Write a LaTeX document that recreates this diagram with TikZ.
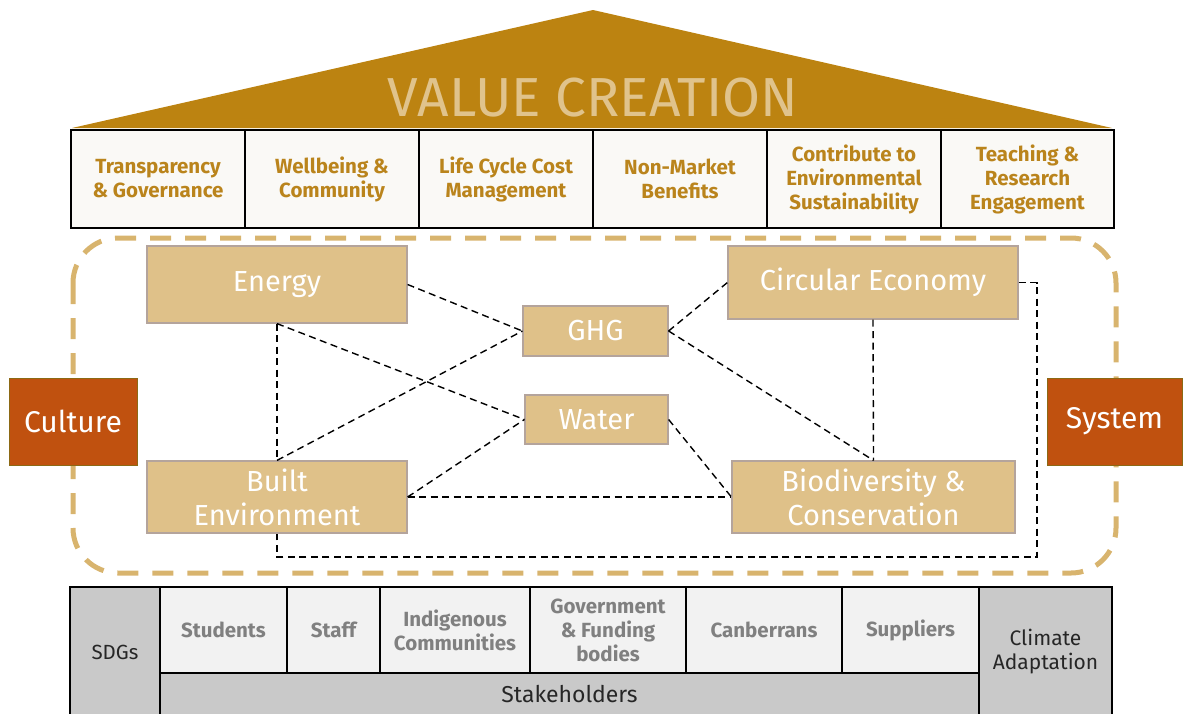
\documentclass[tikz,border=0pt]{standalone}
\usepackage{fontspec}
\setmainfont{Fira Sans}
\definecolor{roof}{RGB}{188,131,17}
\definecolor{roofText}{RGB}{224,195,140}
\definecolor{valText}{RGB}{186,132,28}
\definecolor{valFill}{RGB}{250,249,246}
\definecolor{tan}{RGB}{223,193,137}
\definecolor{tanBorder}{RGB}{180,164,156}
\definecolor{dashGold}{RGB}{216,180,110}
\definecolor{rust}{RGB}{192,81,15}
\definecolor{rustBorder}{RGB}{140,105,20}
\definecolor{cellGray}{RGB}{201,201,201}
\definecolor{cellLight}{RGB}{242,242,242}
\definecolor{cellText}{RGB}{128,128,128}
\begin{document}
\begin{tikzpicture}[x=1pt,y=-1pt,
  valbox/.style={draw=black,line width=1.6pt,fill=valFill,minimum width=174pt,minimum height=98pt,
    text=valText,font=\bfseries\fontsize{20.5}{24}\selectfont,align=center,inner sep=0pt},
  topic/.style={draw=tanBorder,line width=1.2pt,fill=tan,text=white,
    font=\fontsize{29}{34}\selectfont,align=center,inner sep=0pt},
  pillar/.style={draw=rustBorder,line width=1pt,fill=rust,text=white,
    font=\fontsize{30}{34}\selectfont,minimum height=87pt,inner sep=0pt},
  link/.style={draw=black,line width=1.4pt,dash pattern=on 7pt off 4.5pt},
  stake/.style={draw=black,line width=1.4pt,fill=cellLight,text=cellText,
    font=\bfseries\fontsize{20.5}{24}\selectfont,align=center,minimum height=86pt,inner sep=0pt},
  grayc/.style={draw=black,line width=1.4pt,fill=cellGray,text=black!85,
    font=\fontsize{20.5}{24}\selectfont,align=center,inner sep=0pt}
]
\useasboundingbox (0,0) rectangle (1183,713);
% roof
\fill[roof] (72,128) -- (593,10) -- (1112,128) -- cycle;
\node[text=roofText,font=\fontsize{55}{60}\selectfont,inner sep=0pt] (title) at (593,98) {VALUE CREATION};
% value row
\node[valbox] (v1) at (158,179) {Transparency\\\& Governance};
\node[valbox] (v2) at (332,179) {Wellbeing \&\\Community};
\node[valbox] (v3) at (506,179) {Life Cycle Cost\\Management};
\node[valbox] (v4) at (680,179) {Non-Market\\Benefits};
\node[valbox] (v5) at (854,179) {Contribute to\\Environmental\\Sustainability};
\node[valbox,minimum width=173pt] (v6) at (1027.5,179) {Teaching \&\\Research\\Engagement};
% dashed frame
\draw[dashGold,line width=5pt,dash pattern=on 21pt off 14pt,rounded corners=45pt]
  (73,238) rectangle (1116,573);
% pillars
\node[pillar,minimum width=128pt] (culture) at (73,421.5) {Culture};
\node[pillar,minimum width=135pt] (system) at (1114.5,421.5) {System};
% topics
\node[topic,minimum width=260pt,minimum height=77pt] (energy) at (277,284.5) {Energy};
\node[topic,minimum width=145pt,minimum height=50pt] (ghg) at (595.5,331) {GHG};
\node[topic,minimum width=143pt,minimum height=49pt] (water) at (596.5,419.5) {Water};
\node[topic,minimum width=290pt,minimum height=73pt] (circ) at (873,282.5) {Circular Economy};
\node[topic,minimum width=260pt,minimum height=72pt] (built) at (277,497) {Built\\Environment};
\node[topic,minimum width=283pt,minimum height=72pt] (bio) at (873.5,497) {Biodiversity \&\\Conservation};
% links
\draw[link] (energy.east) -- (ghg.west);
\draw[link] (energy.south) -- (water.west);
\draw[link] (energy.south) -- (built.north);
\draw[link] (built.north) -- (ghg.west);
\draw[link] (built.east) -- (water.west);
\draw[link] (built.east) -- (bio.west);
\draw[link] (water.east) -- (bio.west);
\draw[link] (ghg.east) -- (circ.west);
\draw[link] (ghg.east) -- (bio.north);
\draw[link] (circ.south) -- (bio.north);
\coordinate (loopR) at (1037,557);
\draw[link] (circ.east) -| (loopR) -| (built.south);
% bottom table
\node[grayc,minimum width=90pt,minimum height=130pt] (sdg) at (115,652) {SDGs};
\node[stake,minimum width=127pt] (s1) at (223.5,630) {Students};
\node[stake,minimum width=93pt] (s2) at (333.5,630) {Staff};
\node[stake,minimum width=150pt] (s3) at (455,630) {Indigenous\\Communities};
\node[stake,minimum width=156pt] (s4) at (608,630) {Government\\\& Funding\\bodies};
\node[stake,minimum width=156pt] (s5) at (764,630) {Canberrans};
\node[stake,minimum width=137pt] (s6) at (910.5,630) {Suppliers};
\node[grayc,minimum width=819pt,minimum height=44pt,font=\fontsize{23}{26}\selectfont] (stk) at (569.5,695) {\raisebox{3pt}{Stakeholders}};
\node[grayc,minimum width=133pt,minimum height=130pt,font=\fontsize{21}{24}\selectfont] (clim) at (1045.5,652) {Climate\\Adaptation};
\end{tikzpicture}
\end{document}
